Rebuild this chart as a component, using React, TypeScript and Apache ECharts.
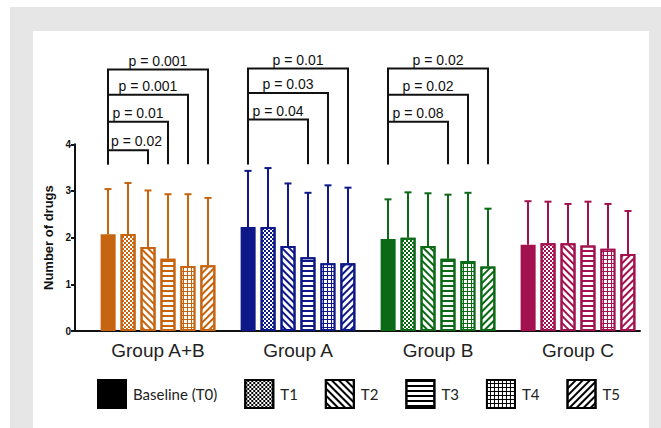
import React, { useEffect, useRef } from 'react';
import * as echarts from 'echarts';

const groups = ['Group A+B', 'Group A', 'Group B', 'Group C'];
const groupColors = ['#c6640f', '#0e1888', '#0c6a16', '#a3124f'];
const timepoints = ['Baseline (T0)', 'T1', 'T2', 'T3', 'T4', 'T5'];

// mean number of drugs, one value per group (A+B, A, B, C)
const meanT0 = [2.07, 2.23, 1.97, 1.85];
const meanT1 = [2.08, 2.23, 2.0, 1.88];
const meanT2 = [1.8, 1.82, 1.82, 1.88];
const meanT3 = [1.55, 1.58, 1.55, 1.83];
const meanT4 = [1.39, 1.45, 1.5, 1.76];
const meanT5 = [1.41, 1.45, 1.38, 1.65];
// upper end of error bars
const upperT0 = [3.04, 3.43, 2.82, 2.78];
const upperT1 = [3.17, 3.49, 2.97, 2.77];
const upperT2 = [3.01, 3.16, 2.95, 2.72];
const upperT3 = [2.93, 2.96, 2.92, 2.77];
const upperT4 = [2.93, 3.12, 2.96, 2.72];
const upperT5 = [2.85, 3.07, 2.62, 2.57];

const yMin = 0;
const yMax = 4;
const yInterval = 1;

// significance brackets: baseline (T0) vs timepoint index
const bracketGroup = [0, 0, 0, 0, 1, 1, 1, 2, 2, 2];
const bracketTo = [2, 3, 4, 5, 3, 4, 5, 3, 4, 5];
const bracketLevel = [3.87, 4.48, 5.06, 5.6, 4.53, 5.1, 5.62, 4.48, 5.06, 5.62];
const bracketP = ['p = 0.02', 'p = 0.01', 'p = 0.001', 'p = 0.001', 'p = 0.04', 'p = 0.03', 'p = 0.01', 'p = 0.08', 'p = 0.02', 'p = 0.02'];
const bracketFoot = 3.57;

const means = [meanT0, meanT1, meanT2, meanT3, meanT4, meanT5];
const uppers = [upperT0, upperT1, upperT2, upperT3, upperT4, upperT5];

const BAR_W = 15;
const BAR_GAP = 1 / 3;
const PITCH = BAR_W * (1 + BAR_GAP);
const FONT = '"Liberation Sans", Arial, sans-serif';

const decals: any[] = [
  null,
  { symbol: 'rect', symbolSize: 1, dashArrayX: [[2, 2], [0, 2, 2, 0]], dashArrayY: [2, 0], rotation: 0 },
  { symbol: 'rect', symbolSize: 1, dashArrayX: [1, 0], dashArrayY: [2, 3], rotation: Math.PI / 4 },
  { symbol: 'rect', symbolSize: 1, dashArrayX: [1, 0], dashArrayY: [2, 3], rotation: 0 },
  { symbol: 'rect', symbolSize: 1, dashArrayX: [3, 1], dashArrayY: [3, 1], rotation: 0 },
  { symbol: 'rect', symbolSize: 1, dashArrayX: [1, 0], dashArrayY: [2, 3], rotation: -Math.PI / 4 },
];

function styleFor(ti: number, c: string) {
  if (ti === 0) return { color: c, borderColor: c, borderWidth: 2 };
  if (ti === 4) return { color: c, borderColor: c, borderWidth: 2, decal: { ...decals[4], color: '#fff' } };
  return { color: '#fff', borderColor: c, borderWidth: 2, decal: { ...decals[ti], color: c } };
}

export default function App() {
  const ref = useRef<HTMLDivElement>(null);
  useEffect(() => {
    const chart = echarts.init(ref.current!, null, { renderer: 'svg' });

    const barSeries = timepoints.map((name, ti) => ({
      type: 'bar',
      name,
      xAxisIndex: 0,
      yAxisIndex: 0,
      barWidth: BAR_W,
      barGap: `${Math.round(BAR_GAP * 100)}%`,
      itemStyle: styleFor(ti, '#000'),
      data: means[ti].map((v, gi) => ({ value: v, itemStyle: styleFor(ti, groupColors[gi]) })),
    }));

    const errData: number[][] = [];
    means.forEach((arr, ti) => arr.forEach((v, gi) => errData.push([gi, ti, v, uppers[ti][gi]])));

    const bracketData = bracketGroup.map((g, i) => [g, 0, bracketTo[i], bracketLevel[i], bracketFoot]);

    chart.setOption({
      animation: false,
      grid: [
        { left: 88, right: 13, top: 144.25, bottom: 97 },
        { left: 75, right: 21, top: 144.25, bottom: 97 },
      ],
      legend: {
        data: timepoints,
        selectedMode: false,
        left: 97,
        top: 379,
        padding: 0,
        itemWidth: 28,
        itemHeight: 28,
        itemGap: 27,
        icon: 'rect',
        itemStyle: { borderColor: '#000', borderWidth: 2 },
        textStyle: { fontFamily: 'Lato, sans-serif', fontSize: 15, color: '#222', padding: [0, 0, 0, 2] },
      },
      xAxis: [
        {
          type: 'category',
          gridIndex: 0,
          data: groups,
          axisLine: { show: false },
          axisTick: { show: false },
          axisLabel: { fontFamily: FONT, fontSize: 19, color: '#222', margin: 10 },
        },
        {
          type: 'value',
          gridIndex: 1,
          min: 0,
          max: 1,
          axisLine: { show: true, lineStyle: { color: '#111', width: 2 } },
          axisTick: { show: false },
          axisLabel: { show: false },
          splitLine: { show: false },
        },
      ],
      yAxis: [
        { type: 'value', gridIndex: 0, min: yMin, max: yMax, interval: yInterval, show: false },
        {
          type: 'value',
          gridIndex: 1,
          min: yMin,
          max: yMax,
          interval: yInterval,
          name: 'Number of drugs',
          nameLocation: 'middle',
          nameGap: 18,
          nameTextStyle: { fontFamily: FONT, fontWeight: 'bold', fontSize: 13, color: '#111' },
          axisLine: { show: true, lineStyle: { color: '#111', width: 2 } },
          axisTick: { show: true, length: 4, lineStyle: { color: '#111', width: 2 } },
          axisLabel: { fontFamily: FONT, fontWeight: 'bold', fontSize: 10, color: '#111', margin: 4 },
          splitLine: { show: false },
        },
      ],
      series: [
        ...barSeries,
        {
          type: 'custom',
          xAxisIndex: 0,
          yAxisIndex: 0,
          z: 3,
          silent: true,
          clip: false,
          encode: { x: 0, y: [2, 3] },
          data: errData,
          renderItem: (params: any, api: any) => {
            const gi = api.value(0);
            const ti = api.value(1);
            const base = api.coord([gi, api.value(2)]);
            const top = api.coord([gi, api.value(3)]);
            const x = base[0] + (ti - 2.5) * PITCH;
            const c = groupColors[gi];
            return {
              type: 'group',
              children: [
                { type: 'line', shape: { x1: x, y1: base[1], x2: x, y2: top[1] }, style: { stroke: c, lineWidth: 2 } },
                { type: 'line', shape: { x1: x - 3.5, y1: top[1], x2: x + 3.5, y2: top[1] }, style: { stroke: c, lineWidth: 2 } },
              ],
            };
          },
        },
        {
          type: 'custom',
          xAxisIndex: 0,
          yAxisIndex: 0,
          z: 3,
          silent: true,
          clip: false,
          encode: { x: 0, y: 3 },
          data: bracketData,
          renderItem: (params: any, api: any) => {
            const g = api.value(0);
            const from = api.value(1);
            const to = api.value(2);
            const lv = api.coord([g, api.value(3)]);
            const ft = api.coord([g, api.value(4)]);
            const xl = lv[0] + (from - 2.5) * PITCH;
            const xr = lv[0] + (to - 2.5) * PITCH;
            const narrow = xr - xl < 50;
            return {
              type: 'group',
              children: [
                {
                  type: 'polyline',
                  shape: { points: [[xl, ft[1]], [xl, lv[1]], [xr, lv[1]], [xr, ft[1]]] },
                  style: { stroke: '#111', lineWidth: 2, fill: null },
                },
                {
                  type: 'text',
                  x: narrow ? xl + 3 : (xl + xr) / 2,
                  y: lv[1] - 9,
                  style: {
                    text: bracketP[params.dataIndex],
                    fill: '#111',
                    font: '14px "Liberation Sans", Arial, sans-serif',
                    align: narrow ? 'left' : 'center',
                    verticalAlign: 'middle',
                  },
                },
              ],
            };
          },
        },
      ],
    });
    return () => chart.dispose();
  }, []);

  return (
    <div style={{ position: 'absolute', left: 0, top: 0, width: 661, height: 428, background: '#fff', overflow: 'hidden' }}>
      <div style={{ position: 'absolute', left: 10, top: 7, width: 651, height: 421, background: '#e5e6e5' }} />
      <div style={{ position: 'absolute', left: 33, top: 31, width: 616, height: 397, background: '#fff' }} />
      <div ref={ref} style={{ position: 'absolute', left: 0, top: 0, width: 661, height: 428 }} />
    </div>
  );
}
